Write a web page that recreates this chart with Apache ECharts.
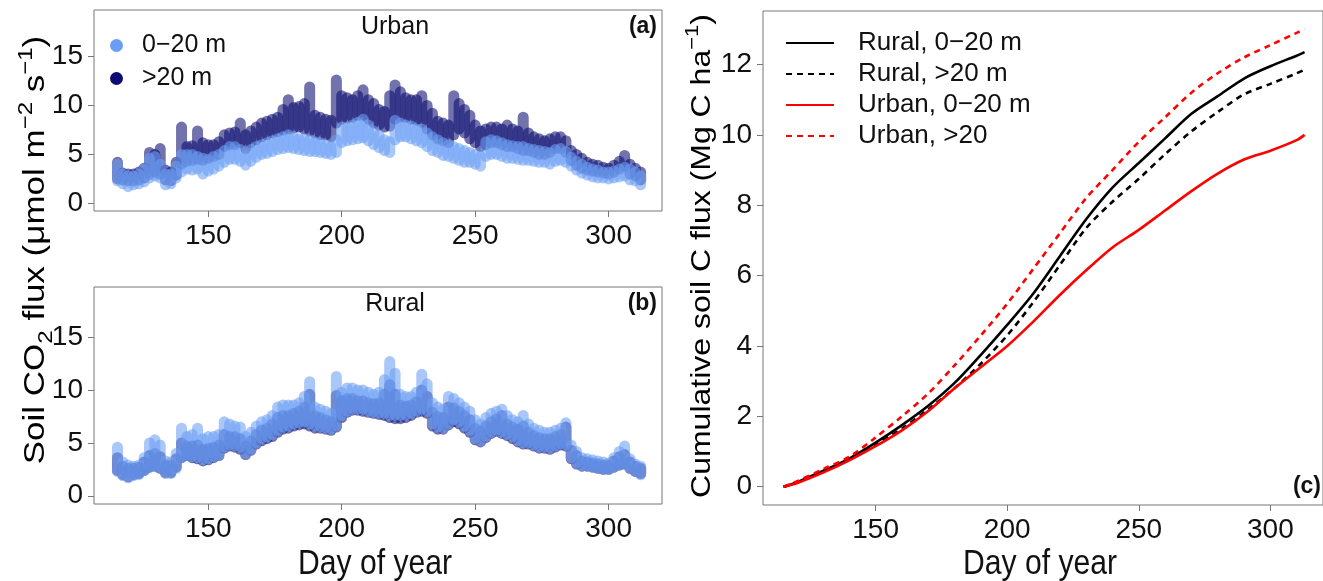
<!DOCTYPE html>
<html>
<head>
<meta charset="utf-8">
<script src="https://cdn.jsdelivr.net/npm/echarts@6/dist/echarts.min.js"></script>
<style>
  html, body { margin: 0; padding: 0; background: #fff; }
  #chart { width: 1323px; height: 581px; }
</style>
</head>
<body>
<div id="chart"></div>
<script>
(function () {
    var days = [];
    for (var d = 116; d <= 312; d += 2) days.push(d);

    var urbanShallowLo = [2.3, 2.0, 1.7, 1.9, 2.0, 2.2, 2.6, 2.8, 2.6, 1.9, 2.0, 2.6, 3.2, 3.5, 3.4, 3.5, 3.0, 3.3, 3.5, 3.8,
        4.2, 4.5, 4.5, 4.3, 3.9, 4.3, 4.7, 5.0, 5.1, 5.3, 5.5, 5.6, 5.7, 5.6, 5.5, 5.4, 5.3, 5.3, 5.2, 5.1,
        5.0, 5.2, 6.2, 6.4, 6.5, 6.6, 6.7, 6.4, 6.0, 5.7, 5.4, 5.2, 6.5, 6.8, 6.8, 6.6, 6.4, 6.2, 5.8, 5.4,
        5.2, 4.9, 4.8, 4.6, 4.4, 4.2, 4.2, 4.0, 3.8, 4.8, 5.0, 5.0, 4.8, 4.6, 4.6, 4.5, 4.4, 4.4, 4.3, 4.2,
        4.2, 4.0, 4.3, 4.4, 4.2, 3.8, 3.4, 3.1, 2.9, 2.7, 2.6, 2.6, 2.5, 2.6, 2.7, 2.8, 2.4, 2.3, 1.9];
    var urbanShallowHi = [4.0, 3.0, 2.8, 2.8, 3.0, 3.5, 4.6, 4.8, 4.0, 3.0, 3.0, 3.8, 5.0, 5.0, 5.0, 4.8, 4.6, 4.5, 4.8, 5.0,
        5.4, 5.8, 5.8, 5.5, 4.9, 5.5, 5.8, 6.0, 6.2, 6.4, 6.6, 6.8, 7.0, 6.8, 6.6, 6.6, 6.5, 6.3, 6.2, 6.0,
        5.8, 6.5, 7.8, 7.8, 8.0, 8.3, 8.6, 8.0, 7.4, 7.0, 6.5, 6.3, 8.5, 8.2, 8.0, 7.9, 7.6, 7.6, 7.2, 6.8,
        6.5, 6.2, 6.0, 5.8, 5.6, 5.4, 5.2, 5.0, 4.8, 6.3, 6.5, 6.4, 6.2, 6.0, 5.9, 5.8, 5.8, 5.6, 5.5, 5.4,
        5.3, 5.2, 5.5, 5.6, 5.3, 4.7, 4.3, 4.0, 3.7, 3.5, 3.4, 3.2, 3.2, 3.3, 3.5, 3.7, 3.5, 3.2, 2.8];
    var urbanDeepLo = [2.5, 2.4, 2.3, 2.3, 2.4, 2.6, 3.0, 3.2, 3.0, 2.4, 2.3, 2.9, 4.0, 4.3, 4.4, 4.5, 4.4, 4.6, 4.8, 5.0,
        5.8, 6.0, 6.0, 6.2, 5.6, 6.2, 6.5, 6.8, 7.0, 7.2, 7.3, 7.5, 7.6, 7.7, 7.8, 7.6, 7.4, 7.2, 7.0, 7.0,
        6.8, 8.2, 8.6, 8.7, 8.8, 9.0, 9.0, 8.6, 8.2, 8.0, 7.8, 7.9, 8.6, 8.8, 8.8, 8.6, 8.5, 8.3, 7.6, 7.0,
        6.6, 6.4, 6.2, 7.0, 7.6, 7.2, 6.6, 6.2, 5.8, 6.0, 6.2, 6.2, 6.0, 5.8, 5.8, 5.6, 5.4, 5.4, 5.2, 5.0,
        5.0, 5.2, 5.6, 5.6, 5.2, 4.4, 3.9, 3.6, 3.4, 3.3, 3.2, 3.1, 3.0, 3.2, 3.5, 3.8, 3.0, 2.8, 2.4];
    var urbanDeepHi = [4.2, 3.1, 3.0, 3.0, 3.2, 3.6, 5.2, 5.0, 5.6, 3.4, 3.2, 4.2, 7.8, 5.8, 5.9, 7.4, 6.2, 6.0, 6.0, 6.3,
        7.0, 7.2, 7.3, 8.2, 7.0, 7.4, 7.8, 8.2, 8.4, 8.6, 8.8, 9.6, 10.6, 9.8, 9.9, 10.2, 11.9, 9.0, 8.8, 8.6,
        8.5, 12.6, 11.0, 10.8, 10.6, 11.0, 11.6, 10.6, 10.2, 9.6, 9.4, 11.0, 12.1, 11.4, 10.8, 10.6, 10.6, 11.0, 10.0, 9.2,
        8.4, 8.2, 8.0, 11.0, 10.2, 9.6, 9.0, 8.0, 7.4, 7.6, 7.8, 7.8, 7.6, 8.0, 7.6, 7.4, 8.8, 7.2, 6.8, 6.6,
        6.4, 6.6, 6.8, 6.8, 6.4, 5.4, 5.0, 4.6, 4.2, 4.0, 3.9, 3.7, 3.6, 3.9, 4.3, 4.9, 4.0, 3.6, 3.2];

    var ruralShallowLo = [2.3, 1.9, 1.7, 1.9, 2.0, 2.4, 2.7, 2.8, 2.6, 2.1, 2.1, 2.6, 3.6, 3.8, 3.7, 3.6, 3.4, 3.5, 3.7, 3.8,
        4.6, 4.8, 4.7, 4.6, 4.0, 4.4, 5.0, 5.4, 5.6, 5.8, 6.2, 6.5, 6.6, 6.8, 6.9, 7.0, 6.8, 6.6, 6.5, 6.4,
        6.3, 6.6, 7.6, 8.0, 8.2, 8.2, 8.2, 8.0, 7.9, 7.8, 7.8, 7.6, 7.6, 7.6, 7.6, 7.8, 8.0, 8.2, 8.0, 6.8,
        6.5, 6.4, 6.8, 7.2, 7.0, 6.6, 6.2, 5.4, 5.2, 5.6, 6.0, 6.2, 6.0, 5.8, 5.6, 5.2, 5.0, 5.0, 4.8, 4.6,
        4.6, 4.5, 4.7, 4.9, 4.8, 3.6, 3.1, 2.8, 2.8, 2.7, 2.6, 2.5, 2.5, 2.7, 2.9, 3.0, 2.6, 2.3, 2.0];
    var ruralShallowHi = [4.6, 3.2, 2.9, 2.8, 2.9, 3.6, 5.0, 5.3, 4.8, 3.3, 3.2, 4.0, 6.4, 5.6, 5.8, 6.4, 5.4, 5.6, 5.6, 5.8,
        7.0, 6.8, 6.6, 6.5, 5.6, 6.0, 6.6, 7.0, 7.2, 7.6, 8.4, 8.6, 8.6, 8.6, 8.8, 9.4, 10.8, 8.4, 8.2, 8.0,
        7.8, 11.3, 9.8, 10.2, 10.2, 10.0, 10.0, 9.8, 9.6, 9.8, 11.0, 12.7, 11.6, 9.6, 9.4, 9.4, 9.8, 11.5, 10.6, 8.8,
        8.4, 8.2, 9.4, 9.2, 8.8, 8.4, 8.0, 7.2, 6.8, 7.4, 7.8, 8.0, 8.2, 7.6, 7.2, 7.0, 7.6, 6.8, 6.4, 6.2,
        6.0, 6.0, 6.2, 6.4, 6.9, 4.8, 4.2, 3.6, 3.5, 3.4, 3.3, 3.2, 3.1, 3.6, 4.2, 4.7, 3.5, 3.0, 2.8];
    var ruralDeepLo = [2.4, 2.0, 1.8, 2.0, 2.1, 2.4, 2.7, 2.8, 2.6, 2.2, 2.2, 2.7, 3.6, 3.8, 3.6, 3.5, 3.3, 3.4, 3.6, 3.8,
        4.5, 4.7, 4.6, 4.4, 3.9, 4.3, 4.9, 5.2, 5.4, 5.6, 6.0, 6.3, 6.4, 6.6, 6.7, 6.8, 6.6, 6.4, 6.4, 6.3,
        6.2, 6.5, 7.4, 7.9, 8.1, 8.1, 8.0, 7.9, 7.8, 7.7, 7.6, 7.4, 7.3, 7.3, 7.4, 7.6, 7.9, 8.0, 7.8, 6.6,
        6.3, 6.3, 6.7, 7.0, 6.8, 6.4, 6.0, 5.3, 5.1, 5.5, 5.9, 6.1, 5.9, 5.7, 5.4, 5.1, 4.9, 4.9, 4.7, 4.5,
        4.5, 4.4, 4.6, 4.8, 4.7, 3.5, 3.0, 2.8, 2.8, 2.7, 2.6, 2.5, 2.5, 2.7, 2.9, 3.0, 2.6, 2.3, 2.1];
    var ruralDeepHi = [3.6, 2.8, 2.6, 2.6, 2.7, 3.2, 3.8, 4.0, 3.7, 2.9, 2.9, 3.5, 5.0, 4.7, 4.7, 4.8, 4.4, 4.5, 4.6, 4.8,
        5.8, 5.6, 5.6, 5.4, 4.7, 5.2, 5.8, 6.2, 6.4, 6.8, 7.4, 7.6, 7.6, 7.8, 8.0, 8.4, 9.6, 7.6, 7.4, 7.2,
        7.0, 9.5, 9.0, 9.2, 9.2, 9.0, 9.0, 8.8, 8.7, 8.8, 9.6, 10.5, 9.6, 8.6, 8.5, 8.6, 8.9, 10.0, 9.4, 7.9,
        7.5, 7.4, 8.4, 8.3, 8.0, 7.6, 7.2, 6.4, 6.1, 6.6, 7.0, 7.3, 7.6, 6.8, 6.5, 6.3, 6.6, 6.0, 5.7, 5.5,
        5.4, 5.4, 5.6, 5.8, 6.5, 4.3, 3.8, 3.3, 3.2, 3.1, 3.0, 2.9, 2.9, 3.3, 3.7, 3.9, 3.2, 2.8, 2.6];

    // cumulative soil C flux (Mg C / ha)
    var cumDays = [115, 120, 130, 140, 150, 160, 170, 180, 190, 200, 210, 220, 230, 240, 250, 260, 270, 280, 290, 300, 310, 313];
    var ruralShallowCum = [0, 0.12, 0.45, 0.8, 1.25, 1.75, 2.3, 2.95, 3.75, 4.6, 5.5, 6.55, 7.6, 8.5, 9.2, 9.9, 10.6, 11.1, 11.6, 11.95, 12.25, 12.35];
    var ruralDeepCum = [0, 0.12, 0.45, 0.8, 1.2, 1.65, 2.2, 2.8, 3.5, 4.3, 5.25, 6.3, 7.35, 8.1, 8.75, 9.45, 10.1, 10.65, 11.15, 11.45, 11.75, 11.85];
    var urbanShallowCum = [0, 0.1, 0.4, 0.75, 1.15, 1.6, 2.15, 2.8, 3.4, 4.0, 4.7, 5.45, 6.15, 6.8, 7.3, 7.85, 8.4, 8.9, 9.3, 9.55, 9.85, 10.0];
    var urbanDeepCum = [0, 0.15, 0.5, 0.85, 1.4, 2.0, 2.65, 3.45, 4.3, 5.2, 6.2, 7.2, 8.2, 9.0, 9.8, 10.5, 11.2, 11.75, 12.2, 12.55, 12.9, 13.0];

    var dayTicks = [150, 200, 250, 300];
    var fluxTicks = [0, 5, 10, 15];
    var cumTicks = [0, 2, 4, 6, 8, 10, 12];

    var lightBlue = '#6a9ef5';
    var navy = '#0c0c72';
    var font = "'Liberation Sans', Arial, sans-serif";
    var narrow = "'Liberation Sans Narrow', 'Liberation Sans', Arial, sans-serif";

    function band(days, lo, hi) {
        return days.map(function (d, i) { return [d, lo[i], hi[i]]; });
    }
    function curve(x, y) {
        return x.map(function (d, i) { return [d, y[i]]; });
    }

    function renderBand(params, api) {
        var top = api.coord([api.value(0), api.value(2)]);
        var bot = api.coord([api.value(0), api.value(1)]);
        var w = 11;
        return {
            type: 'rect',
            shape: { x: top[0] - w / 2, y: top[1] - w / 2, width: w, height: bot[1] - top[1] + w, r: w / 2 },
            style: { fill: api.visual('color'), opacity: 0.58 }
        };
    }

    function xAxis(gridIndex) {
        return {
            type: 'value', gridIndex: gridIndex, min: 107.2, max: 320,
            axisLine: { show: false, onZero: false },
            axisTick: { show: true, inside: false, length: 6, customValues: dayTicks, lineStyle: { color: '#777' } },
            axisLabel: { customValues: dayTicks, fontSize: 28, fontFamily: narrow, color: '#111', margin: 11 },
            splitLine: { show: false }
        };
    }
    function yAxis(gridIndex, min, max, ticks) {
        return {
            type: 'value', gridIndex: gridIndex, min: min, max: max,
            axisLine: { show: false, onZero: false },
            axisTick: { show: true, inside: false, length: 6, customValues: ticks, lineStyle: { color: '#777' } },
            axisLabel: { customValues: ticks, fontSize: 28, fontFamily: narrow, color: '#111', margin: 11 },
            splitLine: { show: false }
        };
    }

    function titleRich(size) {
        var small = Math.round(size * 0.68);
        return {
            a: { fontSize: size, fontFamily: font, color: '#111', lineHeight: size + 12 },
            sub: { fontSize: small, fontFamily: font, color: '#111', verticalAlign: 'bottom', lineHeight: size + 12 },
            sup: { fontSize: small, fontFamily: font, color: '#111', verticalAlign: 'top', lineHeight: size + 12 }
        };
    }

    var option = {
        animation: false,
        backgroundColor: '#fff',
        grid: [
            { left: 94, top: 10, width: 568, height: 201, show: true, borderColor: '#777', borderWidth: 1 },
            { left: 94, top: 287, width: 568, height: 217, show: true, borderColor: '#777', borderWidth: 1 },
            { left: 763, top: 11, width: 565, height: 494, show: true, borderColor: '#777', borderWidth: 1 }
        ],
        xAxis: [xAxis(0), xAxis(1), xAxis(2)],
        yAxis: [
            yAxis(0, -0.78, 19.76, fluxTicks),
            yAxis(1, -0.78, 19.76, fluxTicks),
            yAxis(2, -0.52, 13.52, cumTicks)
        ],
        legend: [{
            left: 105, top: 28, orient: 'vertical', itemGap: 8,
            itemWidth: 13, itemHeight: 13,
            textStyle: { fontSize: 25, fontFamily: font, color: '#111', padding: [0, 0, 0, 14] },
            itemStyle: { opacity: 1 },
            data: [{ name: '0−20 m', icon: 'circle' }, { name: '>20 m', icon: 'circle' }]
        }, {
            left: 780, top: 25, orient: 'vertical', itemGap: 5,
            itemWidth: 48, itemHeight: 26,
            textStyle: { fontSize: 26, fontFamily: font, color: '#111', padding: [0, 0, 0, 19] },
            itemStyle: { opacity: 0 },
            data: ['Rural, 0−20 m', 'Rural, >20 m', 'Urban, 0−20 m', 'Urban, >20']
        }],
        graphic: [
            { type: 'text', x: 395, y: 27, style: { text: 'Urban', fontSize: 25, fontFamily: font, fill: '#111', align: 'center', verticalAlign: 'middle' } },
            { type: 'text', x: 657, y: 27, style: { text: '(a)', fontSize: 23, fontWeight: 'bold', fontFamily: font, fill: '#111', align: 'right', verticalAlign: 'middle' } },
            { type: 'text', x: 395, y: 304, style: { text: 'Rural', fontSize: 25, fontFamily: font, fill: '#111', align: 'center', verticalAlign: 'middle' } },
            { type: 'text', x: 657, y: 304, style: { text: '(b)', fontSize: 23, fontWeight: 'bold', fontFamily: font, fill: '#111', align: 'right', verticalAlign: 'middle' } },
            { type: 'text', x: 1321, y: 487, style: { text: '(c)', fontSize: 23, fontWeight: 'bold', fontFamily: font, fill: '#111', align: 'right', verticalAlign: 'middle' } },
            { type: 'text', x: 375, y: 564, scaleX: 0.86, style: { text: 'Day of year', fontSize: 35, fontFamily: font, fill: '#111', align: 'center', verticalAlign: 'middle' } },
            { type: 'text', x: 1040, y: 564, scaleX: 0.86, style: { text: 'Day of year', fontSize: 35, fontFamily: font, fill: '#111', align: 'center', verticalAlign: 'middle' } },
            {
                type: 'text', x: 36, y: 250, rotation: Math.PI / 2, scaleY: 0.86,
                style: {
                    text: '{a|Soil CO}{sub|2}{a| flux (μmol m}{sup|−2}{a| s}{sup|−1}{a|)}',
                    rich: titleRich(35), align: 'center', verticalAlign: 'middle'
                }
            },
            {
                type: 'text', x: 702, y: 256, rotation: Math.PI / 2, scaleY: 0.86,
                style: {
                    text: '{a|Cumulative soil C flux (Mg C ha}{sup|−1}{a|)}',
                    rich: titleRich(32), align: 'center', verticalAlign: 'middle'
                }
            }
        ],
        series: [
            { name: '>20 m', type: 'custom', xAxisIndex: 0, yAxisIndex: 0, itemStyle: { color: navy },
                encode: { x: 0, y: [1, 2] }, renderItem: renderBand, data: band(days, urbanDeepLo, urbanDeepHi) },
            { name: '0−20 m', type: 'custom', xAxisIndex: 0, yAxisIndex: 0, itemStyle: { color: lightBlue },
                encode: { x: 0, y: [1, 2] }, renderItem: renderBand, data: band(days, urbanShallowLo, urbanShallowHi) },
            { name: '>20 m', type: 'custom', xAxisIndex: 1, yAxisIndex: 1, itemStyle: { color: navy },
                encode: { x: 0, y: [1, 2] }, renderItem: renderBand, data: band(days, ruralDeepLo, ruralDeepHi) },
            { name: '0−20 m', type: 'custom', xAxisIndex: 1, yAxisIndex: 1, itemStyle: { color: lightBlue },
                encode: { x: 0, y: [1, 2] }, renderItem: renderBand, data: band(days, ruralShallowLo, ruralShallowHi) },
            { name: 'Rural, 0−20 m', type: 'line', xAxisIndex: 2, yAxisIndex: 2, symbol: 'none', smooth: 0.3,
                lineStyle: { color: '#000', width: 2.6 }, itemStyle: { color: '#000' }, data: curve(cumDays, ruralShallowCum) },
            { name: 'Rural, >20 m', type: 'line', xAxisIndex: 2, yAxisIndex: 2, symbol: 'none', smooth: 0.3,
                lineStyle: { color: '#000', width: 2.6, type: [6, 5] }, itemStyle: { color: '#000' }, data: curve(cumDays, ruralDeepCum) },
            { name: 'Urban, 0−20 m', type: 'line', xAxisIndex: 2, yAxisIndex: 2, symbol: 'none', smooth: 0.3,
                lineStyle: { color: '#f00', width: 2.6 }, itemStyle: { color: '#f00' }, data: curve(cumDays, urbanShallowCum) },
            { name: 'Urban, >20', type: 'line', xAxisIndex: 2, yAxisIndex: 2, symbol: 'none', smooth: 0.3,
                lineStyle: { color: '#f00', width: 2.6, type: [6, 5] }, itemStyle: { color: '#f00' }, data: curve(cumDays, urbanDeepCum) }
        ]
    };

    var chart = echarts.init(document.getElementById('chart'));
    chart.setOption(option);
})();
</script>
</body>
</html>
